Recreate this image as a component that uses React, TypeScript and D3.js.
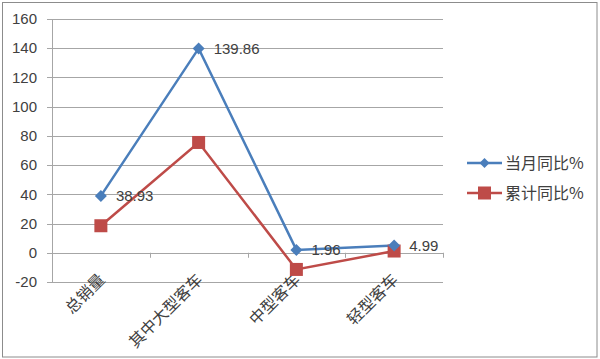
import React from 'react';
import * as d3 from 'd3';

const categories = ['总销量', '其中大型客车', '中型客车', '轻型客车'];
const monthly = [38.93, 139.86, 1.96, 4.99];
const cumulative = [18.5, 75.5, -11.4, 1.2];
const seriesNames = ['当月同比%', '累计同比%'];
const yTicks = [-20, 0, 20, 40, 60, 80, 100, 120, 140, 160];

const W = 600, H = 359;
const plot = { left: 52, right: 443, top: 19, bottom: 282 };
const BLUE = '#4A7EBB', RED = '#BE4B48';
const GRID = '#A6A6A6';
const TEXT = '#404040';
const CJK = "'Noto Sans CJK SC', sans-serif";

// square turned 45 degrees, like the office diamond marker
const diamond = 'M0,-6L6,0L0,6L-6,0Z';

export default function App() {
    let x = d3.scaleBand<string>().domain(categories).range([plot.left, plot.right]);
    let y = d3.scaleLinear().domain([-20, 160]).range([plot.bottom, plot.top]);
    let cx = (c: string) => (x(c) as number) + x.bandwidth() / 2;

    let line = d3.line<number>()
        .x((d, i) => cx(categories[i]))
        .y(d => y(d));

    let y0 = y(0);

    return (
        <svg width={W} height={H} style={{ position: 'absolute', left: 0, top: 0 }}
             fontFamily="'Liberation Sans', Arial, sans-serif">
            <rect x={0} y={0} width={W} height={H} fill="#fff" />
            <rect x={2.5} y={2.5} width={594.5} height={354.5} fill="none" stroke="#8C8C8C" strokeWidth={1} />

            {/* grid + y axis */}
            {yTicks.map(t =>
                <g key={t}>
                    <line x1={plot.left - 5} x2={plot.right} y1={Math.round(y(t)) + 0.5} y2={Math.round(y(t)) + 0.5}
                          stroke={GRID} strokeWidth={1} />
                    <text x={37} y={y(t)} dy="0.35em" textAnchor="end" fontSize={15} fill={TEXT}>{t}</text>
                </g>
            )}
            <line x1={plot.left + 0.5} x2={plot.left + 0.5} y1={plot.top} y2={plot.bottom} stroke={GRID} />

            {/* x axis ticks on zero line */}
            {categories.map((c, i) =>
                <line key={'t' + i} x1={Math.round((x(c) as number) + x.bandwidth()) + 0.5}
                      x2={Math.round((x(c) as number) + x.bandwidth()) + 0.5}
                      y1={y0} y2={y0 + 5} stroke={GRID} />
            )}

            {/* category labels */}
            {categories.map(c =>
                <text key={c} transform={`translate(${cx(c) + 5},${y0 + 28}) rotate(-45)`}
                      textAnchor="end" fontSize={16} fill={TEXT} fontFamily={CJK}>{c}</text>
            )}

            {/* series */}
            <path d={line(cumulative) as string} fill="none" stroke={RED} strokeWidth={2.5} />
            <path d={line(monthly) as string} fill="none" stroke={BLUE} strokeWidth={2.5} />
            {cumulative.map((v, i) =>
                <rect key={'r' + i} x={cx(categories[i]) - 6.5} y={y(v) - 6.5} width={13} height={13} fill={RED} />
            )}
            {monthly.map((v, i) =>
                <path key={'d' + i} d={diamond}
                      transform={`translate(${cx(categories[i])},${y(v)})`} fill={BLUE} />
            )}
            {monthly.map((v, i) =>
                <text key={'l' + i} x={cx(categories[i]) + 15} y={y(v)} dy="0.35em"
                      fontSize={15} fill={TEXT}>{v}</text>
            )}

            {/* legend */}
            {seriesNames.map((s, i) => {
                let ly = 163 + i * 30;
                return (
                    <g key={s}>
                        <line x1={467} x2={502} y1={ly} y2={ly} stroke={i === 0 ? BLUE : RED} strokeWidth={2.5} />
                        {i === 0
                            ? <path d="M0,-5L5,0L0,5L-5,0Z" transform={`translate(484.5,${ly})`} fill={BLUE} />
                            : <rect x={478} y={ly - 6.5} width={13} height={13} fill={RED} />}
                        <text x={505} y={ly} dy="0.35em" fontSize={16} fill={TEXT} fontFamily={CJK}>{s}</text>
                    </g>
                );
            })}
        </svg>
    );
}
